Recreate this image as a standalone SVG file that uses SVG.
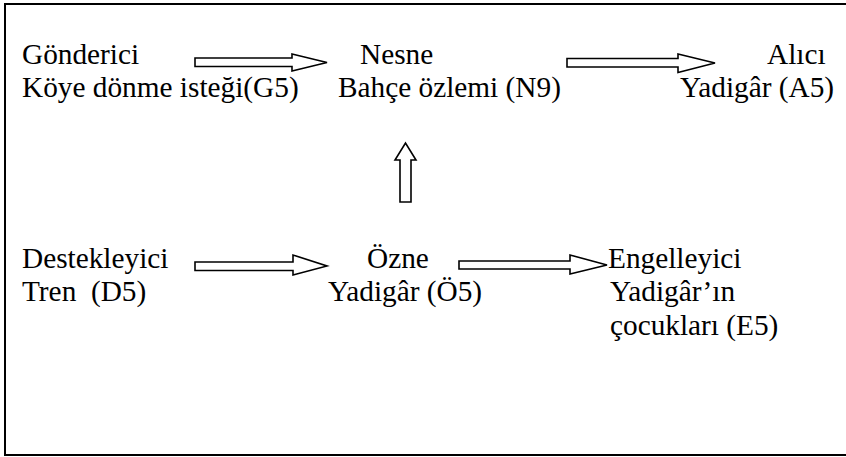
<svg xmlns="http://www.w3.org/2000/svg" width="846" height="457" viewBox="0 0 846 457">
  <style>
    .t { font-family: "Liberation Serif", "Times New Roman", serif; font-size: 29.3px; fill: #000; }
    .arr { fill: #fff; stroke: #000; stroke-width: 1.6; stroke-linejoin: miter; }
    .frame { fill: none; stroke: #000; stroke-width: 2; }
  </style>
  <rect class="frame" x="5" y="4" width="850" height="451"/>

  <g id="connectors">
    <!-- Gönderici -> Nesne -->
    <path class="arr" d="M195,58 H292 V54 L327,62.5 L292,71 V66.5 H195 Z"/>
    <!-- Nesne -> Alıcı -->
    <path class="arr" d="M567,58.5 H678 V54 L715,63 L678,72.5 V67 H567 Z"/>
    <!-- Özne -> Nesne (upward) -->
    <path class="arr" d="M400,202 V160 H395 L405.5,143 L416,160 H411 V202 Z"/>
    <!-- Destekleyici -> Özne -->
    <path class="arr" d="M195,262 H293 V255 L327,266 L293,275 V270.5 H195 Z"/>
    <!-- Özne -> Engelleyici -->
    <path class="arr" d="M459,261 H570 V255 L607,265 L570,274 V269 H459 Z"/>
  </g>

  <g id="gonderici">
    <text class="t" x="22" y="64">Gönderici</text>
    <text class="t" x="22" y="97">Köye dönme isteği(G5)</text>
  </g>
  <g id="nesne">
    <text class="t" x="360" y="64">Nesne</text>
    <text class="t" x="338" y="97">Bahçe özlemi (N9)</text>
  </g>
  <g id="alici">
    <text class="t" x="767" y="64">Alıcı</text>
    <text class="t" x="680" y="97">Yadigâr (A5)</text>
  </g>
  <g id="destekleyici">
    <text class="t" x="22" y="268">Destekleyici</text>
    <text class="t" x="22" y="301" xml:space="preserve">Tren  (D5)</text>
  </g>
  <g id="ozne">
    <text class="t" x="367" y="268">Özne</text>
    <text class="t" x="328" y="301">Yadigâr (Ö5)</text>
  </g>
  <g id="engelleyici">
    <text class="t" x="608" y="268">Engelleyici</text>
    <text class="t" x="610" y="301">Yadigâr’ın</text>
    <text class="t" x="610" y="335">çocukları (E5)</text>
  </g>
</svg>
